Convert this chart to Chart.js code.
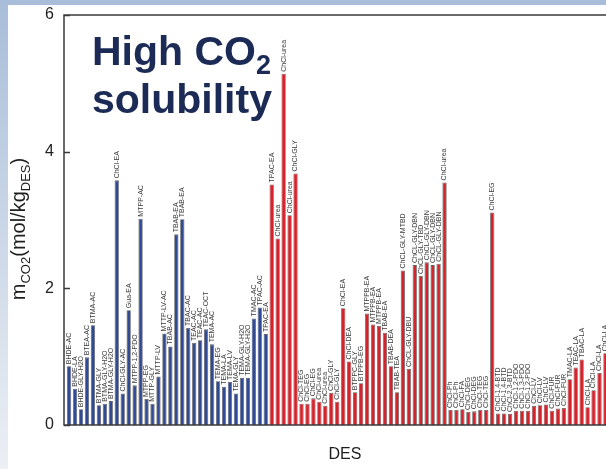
<!DOCTYPE html>
<html>
<head>
<meta charset="utf-8">
<script src="https://cdn.jsdelivr.net/npm/chart.js@4.4.1/dist/chart.umd.min.js"></script>
<style>
  html, body { margin: 0; padding: 0; }
  body {
    width: 606px; height: 469px; overflow: hidden; position: relative;
    background: linear-gradient(to bottom, #a8bdd9 0%, #c8d5e6 45%, #eceff4 100%);
    font-family: "Liberation Sans", Arial, sans-serif;
  }
  #panel { position: absolute; left: 8px; top: 5px; width: 700px; height: 470px; background: #fff; }
  #wrap { position: absolute; left: 0; top: 0; width: 620px; height: 469px; }
  #note {
    position: absolute; left: 92px; top: 27px;
    font-weight: bold; font-size: 41px; line-height: 48px; color: #1b2b56;
  }
  #note sub { font-size: 27px; vertical-align: -9px; line-height: 0; }
</style>
</head>
<body>
<div id="panel"></div>
<div id="wrap"><canvas id="chart" width="620" height="469"></canvas></div>
<div id="note">High CO<sub>2</sub><br>solubility</div>
<script>
// DES names, in plotted order (first 34 blue, rest red)
const desLabels = [
  'BHDE-AC', 'BHDE-LA', 'BHDE-GLY-H2O', 'BTEA-AC', 'BTMA-AC', 'BTMA-GLY', 'BTMA-GLY-H2O', 'BTMA-GLY-H2O',
  'ChCl-EA', 'ChCl-GLY-AC', 'Gua-EA', 'MTPP-1,2-PDO', 'MTPP-AC', 'MTPP-EG', 'MTTP-GLY', 'MTTP-LV',
  'MTTP-LV-AC', 'TBAB-AC', 'TBAB-EA', 'TBAB-EA', 'TBAC-AC', 'TEAC-AC', 'TEAC-AC', 'TEAC-OCT',
  'TEMA-AC', 'TEMA-EG', 'TEMA-LA', 'TEMA-LV', 'TEMA-GLY', 'TEMA-GLY-H2O', 'TEMA-GLY-H2O', 'TMAC-AC',
  'TPAC-AC', 'TPAC-EA',
  'TPAC-EA', 'ChCl-urea', 'ChCl-urea', 'ChCl-urea', 'ChCl-GLY', 'ChCl-TEG', 'ChCl-EG', 'ChCl-EG',
  'ChCl-urea', 'ChCl-urea', 'ChCl-GLY', 'ChCl-GLY', 'ChCl-EA', 'ChCl-DEA', 'BTPPC-GLY', 'BTPPB-EG',
  'MTPPB-EA', 'MTPPB-EA', 'MTPPB-EA', 'TBAB-EA', 'TBAB-DEA', 'TBAB-TEA', 'ChCL-GLY-MTBD', 'ChCL-GLY-DBU',
  'ChCL-GLY-DBN', 'ChCL-GLY-TBD', 'ChCL-GLY-DBN', 'ChCL-GLY-DBN', 'ChCL-GLY-DBN', 'ChCl-urea',
  'ChCl-Ph', 'ChCl-Ph', 'ChCl-FA', 'ChCl-DEG', 'ChCl-DEG', 'ChCl-TEG', 'ChCl-TEG', 'ChCl-EG',
  'ChCl-1,4-BTD', 'ChCl-1,4-BTD', 'ChCl-2,3-BTD', 'ChCl-1,2-PDO', 'ChCl-1,3-PDO', 'ChCl-1,2-PDO',
  'ChCl-LV', 'ChCl-LV', 'ChCl-LV', 'ChCl-FUR', 'ChCl-FUR', 'ChCl-FUR',
  'TMAC-LA', 'TEAC-LA', 'TBAC-LA', 'ChCl-LA', 'ChCl-LA', 'ChCl-LA', 'ChCl-LA'
];

// m_CO2 (mol/kg DES)
const co2Values = [
  0.86, 0.53, 0.23, 0.99, 1.46, 0.29, 0.31, 0.35,
  3.58, 0.46, 1.68, 0.58, 3.02, 0.38, 0.31, 0.71,
  1.34, 1.15, 2.79, 3.01, 1.42, 1.20, 1.24, 1.40,
  1.18, 0.64, 0.56, 0.63, 0.46, 0.69, 0.69, 1.56,
  1.72, 1.33,
  3.52, 2.73, 5.14, 3.07, 3.68, 0.31, 0.31, 0.39,
  0.34, 0.28, 0.47, 0.34, 1.71, 0.93, 0.48, 0.61,
  1.63, 1.47, 1.45, 1.35, 0.86, 0.48, 2.26, 0.82,
  2.34, 2.18, 2.38, 2.34, 2.36, 3.55,
  0.22, 0.22, 0.23, 0.19, 0.20, 0.22, 0.22, 3.11,
  0.17, 0.17, 0.16, 0.21, 0.21, 0.21,
  0.28, 0.29, 0.30, 0.21, 0.24, 0.25,
  0.67, 0.84, 0.96, 0.26, 0.51, 0.76, 1.05
];

const blueCount = 34; // first group drawn in blue
const yTicks = [0, 2, 4, 6];

const BLUE = '#2f4a96';
const RED = '#d5222b';
const FONT = '"Liberation Sans", Arial, sans-serif';

// frame (left, top, bottom) with inward tick marks
const framePlugin = {
  id: 'frame',
  afterDatasetsDraw(chart) {
    const { ctx, chartArea: a, scales: { y } } = chart;
    ctx.save();
    ctx.strokeStyle = '#3a3a3a';
    ctx.lineWidth = 1.5;
    ctx.beginPath();
    ctx.moveTo(a.right, a.top);
    ctx.lineTo(a.left, a.top);
    ctx.lineTo(a.left, a.bottom);
    ctx.lineTo(a.right, a.bottom);
    yTicks.forEach(t => {
      const py = Math.round(y.getPixelForValue(t)) + 0.5;
      ctx.moveTo(a.left, py);
      ctx.lineTo(a.left + 6, py);
    });
    ctx.stroke();
    ctx.restore();
  }
};

// DES name written upward above each bar
const barLabelPlugin = {
  id: 'barLabels',
  afterDatasetsDraw(chart) {
    const { ctx } = chart;
    const meta = chart.getDatasetMeta(0);
    ctx.save();
    ctx.fillStyle = '#3c3c3c';
    ctx.font = '7px ' + FONT;
    ctx.textAlign = 'left';
    ctx.textBaseline = 'middle';
    meta.data.forEach((bar, i) => {
      ctx.save();
      ctx.translate(bar.x, bar.y - 2);
      ctx.rotate(-Math.PI / 2);
      ctx.fillText(desLabels[i], 0, 0);
      ctx.restore();
    });
    ctx.restore();
  }
};

// axis titles (y title needs subscripts)
const titlePlugin = {
  id: 'titles',
  afterDraw(chart) {
    const { ctx } = chart;
    ctx.save();
    ctx.fillStyle = '#1e1e1e';
    ctx.font = '16px ' + FONT;
    ctx.textAlign = 'center';
    ctx.textBaseline = 'middle';
    ctx.fillText('DES', 345, 455);

    const parts = [
      { t: 'm', sub: false }, { t: 'CO2', sub: true }, { t: '(mol/kg', sub: false },
      { t: 'DES', sub: true }, { t: ')', sub: false }
    ];
    const fontOf = p => (p.sub ? '13px ' : '20px ') + FONT;
    let total = 0;
    parts.forEach(p => { ctx.font = fontOf(p); total += ctx.measureText(p.t).width; });
    ctx.translate(25, 229);
    ctx.rotate(-Math.PI / 2);
    ctx.textAlign = 'left';
    ctx.textBaseline = 'alphabetic';
    let x = -total / 2;
    parts.forEach(p => {
      ctx.font = fontOf(p);
      ctx.fillText(p.t, x, p.sub ? 5 : 0);
      x += ctx.measureText(p.t).width;
    });
    ctx.restore();
  }
};

new Chart(document.getElementById('chart'), {
  type: 'bar',
  data: {
    datasets: [{
      data: co2Values.map((v, i) => ({ x: i, y: v })),
      backgroundColor: co2Values.map((v, i) => (i < blueCount ? BLUE : RED)),
      borderColor: 'rgba(70,70,70,0.85)',
      borderWidth: 0.8,
      barPercentage: 0.72,
      categoryPercentage: 1
    }]
  },
  options: {
    responsive: false,
    animation: false,
    layout: { padding: { top: 15, right: 1, left: 0, bottom: 0 } },
    plugins: { legend: { display: false }, tooltip: { enabled: false } },
    scales: {
      x: {
        type: 'linear', min: -0.85, max: 92.27, offset: false,
        grid: { display: false }, border: { display: false },
        ticks: { display: false },
        afterFit(s) { s.height = 44; }
      },
      y: {
        min: 0, max: 6,
        afterBuildTicks(s) { s.ticks = yTicks.map(v => ({ value: v })); },
        ticks: { padding: 10, color: '#222', font: { size: 16, family: FONT } },
        grid: { display: false, drawTicks: false }, border: { display: false },
        afterFit(s) { s.width = 64; s.paddingTop = 0; s.paddingBottom = 0; }
      }
    }
  },
  plugins: [framePlugin, barLabelPlugin, titlePlugin]
});
</script>
</body>
</html>
